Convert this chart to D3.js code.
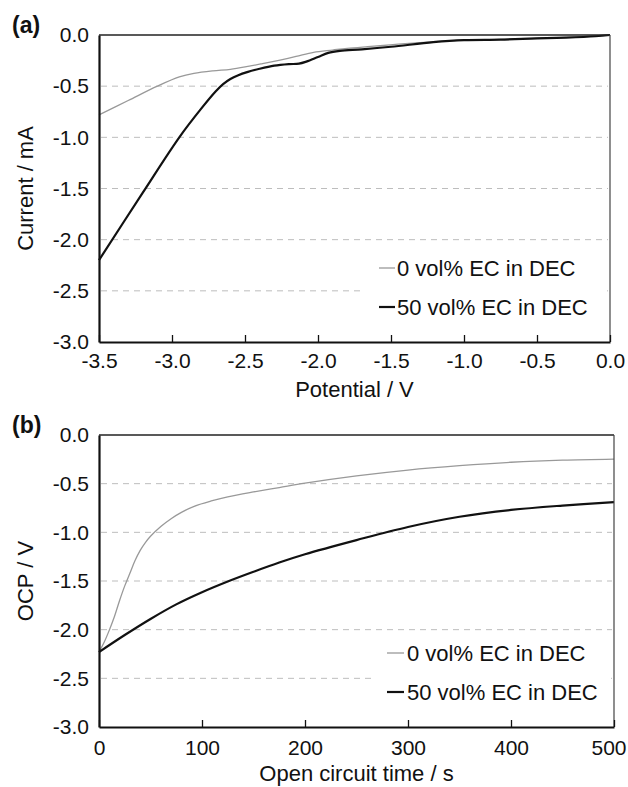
<!DOCTYPE html>
<html>
<head>
<meta charset="utf-8">
<script src="https://cdn.jsdelivr.net/npm/d3@7"></script>
<style>
body { margin: 0; background: #fff; }
svg text { font-family: "Liberation Sans", Arial, Helvetica, sans-serif; fill: #111; }
</style>
</head>
<body>
<svg id="chart"></svg>
<script>
// (a) current vs potential
let potGray = [-3.5, -3.3, -3.1, -2.95, -2.85, -2.72, -2.6, -2.49, -2.38, -2.26, -2.15, -2.03, -1.9, -1.8, -1.66, -1.575, -1.45, -1.35, -1.21, -1.0, -0.75, -0.5, -0.3, -0.1, 0]
let curGray = [-0.78, -0.64, -0.50, -0.41, -0.375, -0.35, -0.335, -0.31, -0.28, -0.245, -0.21, -0.17, -0.147, -0.13, -0.114, -0.105, -0.09, -0.08, -0.065, -0.05, -0.042, -0.03, -0.023, -0.01, 0]
let potBlack = [-3.5, -3.2, -2.95, -2.8, -2.7, -2.65, -2.6, -2.55, -2.48, -2.4, -2.3, -2.2, -2.13, -2.08, -2.0, -1.93, -1.85, -1.7, -1.5, -1.21, -1.0, -0.75, -0.5, -0.3, -0.1, 0]
let curBlack = [-2.2, -1.54, -1.0, -0.72, -0.55, -0.48, -0.43, -0.395, -0.36, -0.33, -0.30, -0.285, -0.28, -0.26, -0.215, -0.175, -0.155, -0.14, -0.115, -0.07, -0.05, -0.045, -0.033, -0.025, -0.012, 0]

// (b) OCP vs open circuit time
let timeGray = [0, 5, 10, 15, 20, 25, 30, 35, 40, 45, 50, 60, 70, 80, 93, 110, 125, 150, 175, 200, 250, 300, 350, 400, 450, 500]
let ocpGray = [-2.23, -2.13, -2.005, -1.865, -1.70, -1.55, -1.42, -1.29, -1.185, -1.105, -1.04, -0.94, -0.86, -0.795, -0.73, -0.675, -0.635, -0.585, -0.54, -0.495, -0.42, -0.36, -0.315, -0.28, -0.258, -0.247]
let timeBlack = [0, 25, 50, 75, 100, 125, 150, 175, 200, 250, 300, 350, 400, 450, 500]
let ocpBlack = [-2.23, -2.055, -1.89, -1.74, -1.615, -1.505, -1.405, -1.31, -1.225, -1.08, -0.945, -0.84, -0.77, -0.725, -0.69]

let seriesNames = ['0 vol% EC in DEC', '50 vol% EC in DEC']
let yTicks = [-3.0, -2.5, -2.0, -1.5, -1.0, -0.5, 0.0]
let xTicksA = [-3.5, -3.0, -2.5, -2.0, -1.5, -1.0, -0.5, 0.0]
let xTicksB = [0, 100, 200, 300, 400, 500]

let w = 628
let h = 787
let tickFont = 21
let titleFont = 22

let svg = d3.select('#chart').attr('width', w).attr('height', h)

let drawPanel = (p) => {
   let xScale = d3.scaleLinear().domain(p.xDomain).range([p.left, p.right])
   let yScale = d3.scaleLinear().domain([-3, 0]).range([p.bottom, p.top])

   let g = svg.append('g')

   // dashed grid
   g.selectAll('.grid')
      .data(yTicks.filter(d => d > -3 && d < 0))
      .enter()
      .append('line')
      .attr('x1', p.left + 2)
      .attr('x2', p.right - 2)
      .attr('y1', d => yScale(d))
      .attr('y2', d => yScale(d))
      .attr('stroke', '#bdbdbd')
      .attr('stroke-width', 1)
      .attr('stroke-dasharray', '6,5')

   // legend background hides the grid
   g.append('rect')
      .attr('x', p.legend.x0)
      .attr('y', p.legend.y0)
      .attr('width', p.legend.x1 - p.legend.x0)
      .attr('height', p.legend.y1 - p.legend.y0)
      .attr('fill', '#fff')

   let line = d3.line()
      .x(d => xScale(d[0]))
      .y(d => yScale(d[1]))
      .curve(d3.curveCatmullRom.alpha(0.5))

   p.series.forEach(s => {
      g.append('path')
         .datum(s.x.map((v, i) => [v, s.y[i]]))
         .attr('fill', 'none')
         .attr('stroke', s.color)
         .attr('stroke-width', s.width)
         .attr('stroke-linejoin', 'round')
         .attr('d', line)
   })

   // frame: top and right thin
   g.append('line')
      .attr('x1', p.left).attr('x2', p.right)
      .attr('y1', p.top).attr('y2', p.top)
      .attr('stroke', '#222').attr('stroke-width', 1.5)
   g.append('line')
      .attr('x1', p.right).attr('x2', p.right)
      .attr('y1', p.top).attr('y2', p.bottom)
      .attr('stroke', '#444').attr('stroke-width', 1.2)

   let xAxis = d3.axisBottom(xScale)
      .tickValues(p.xTicks)
      .tickFormat(p.xFormat)
      .tickSizeInner(-7)
      .tickSizeOuter(0)
      .tickPadding(p.xPad)

   let xg = g.append('g')
      .attr('transform', 'translate(0,' + p.bottom + ')')
      .call(xAxis)
   xg.select('.domain').attr('stroke', '#111').attr('stroke-width', 2.2)
   xg.selectAll('.tick line').attr('stroke', '#111').attr('stroke-width', 1.3)
   xg.selectAll('text').attr('font-size', tickFont).attr('fill', '#111')
   // keep the last label inside the page
   xg.selectAll('.tick:last-of-type text').attr('text-anchor', p.lastAnchor).attr('dx', p.lastDx)

   let yAxis = d3.axisLeft(yScale)
      .tickValues(yTicks)
      .tickFormat(d => d.toFixed(1))
      .tickSize(0)
      .tickPadding(10)

   let yg = g.append('g')
      .attr('transform', 'translate(' + p.left + ',0)')
      .call(yAxis)
   yg.select('.domain').attr('stroke', '#111').attr('stroke-width', 2.2)
   yg.selectAll('text').attr('font-size', tickFont).attr('fill', '#111')

   // titles
   g.append('text')
      .attr('x', (p.left + p.right) / 2)
      .attr('y', p.xTitleY)
      .attr('text-anchor', 'middle')
      .attr('font-size', titleFont)
      .text(p.xTitle)

   g.append('text')
      .attr('transform', 'translate(33,' + ((p.top + p.bottom) / 2) + ') rotate(-90)')
      .attr('text-anchor', 'middle')
      .attr('font-size', titleFont)
      .text(p.yTitle)

   g.append('text')
      .attr('x', 12)
      .attr('y', p.labelY)
      .attr('font-size', 23)
      .attr('font-weight', 'bold')
      .text(p.label)

   // legend
   p.series.forEach((s, i) => {
      let ly = p.legend.rows[i]
      g.append('line')
         .attr('x1', p.legend.lx0).attr('x2', p.legend.lx1)
         .attr('y1', ly).attr('y2', ly)
         .attr('stroke', s.color)
         .attr('stroke-width', s.width)
      g.append('text')
         .attr('x', p.legend.tx)
         .attr('y', ly)
         .attr('dy', '0.35em')
         .attr('font-size', titleFont)
         .text(seriesNames[i])
   })
}

drawPanel({
   left: 99, right: 610, top: 35, bottom: 342,
   xDomain: [-3.5, 0], xTicks: xTicksA, xFormat: d => d.toFixed(1), xPad: 11,
   lastAnchor: 'middle', lastDx: 0,
   xTitle: 'Potential / V', xTitleY: 397,
   yTitle: 'Current / mA',
   label: '(a)', labelY: 33,
   series: [
      {x: potGray, y: curGray, color: '#999', width: 1.3},
      {x: potBlack, y: curBlack, color: '#111', width: 2.2}
   ],
   legend: {x0: 360, x1: 607, y0: 250, y1: 330, rows: [268, 307], lx0: 379, lx1: 395, tx: 397}
})

drawPanel({
   left: 99, right: 614, top: 435, bottom: 727,
   xDomain: [0, 500], xTicks: xTicksB, xFormat: d => String(d), xPad: 13,
   lastAnchor: 'end', lastDx: 12,
   xTitle: 'Open circuit time / s', xTitleY: 781,
   yTitle: 'OCP / V',
   label: '(b)', labelY: 433,
   series: [
      {x: timeGray, y: ocpGray, color: '#999', width: 1.3},
      {x: timeBlack, y: ocpBlack, color: '#111', width: 2.2}
   ],
   legend: {x0: 372, x1: 611, y0: 640, y1: 712, rows: [653, 692], lx0: 387, lx1: 404, tx: 407}
})
</script>
</body>
</html>
